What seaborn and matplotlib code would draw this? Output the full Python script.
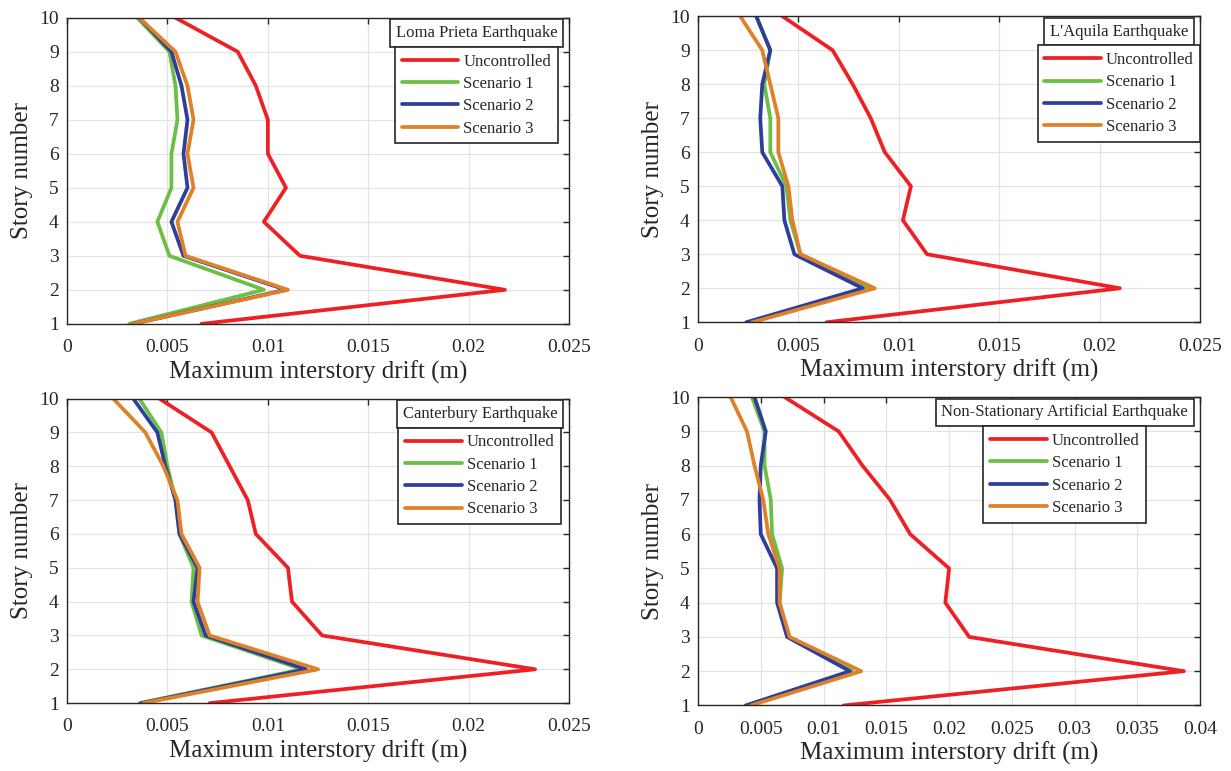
import matplotlib
matplotlib.use('Agg')
import matplotlib.pyplot as plt
import pandas as pd
import seaborn as sns

sns.set_style('white')
plt.rcParams['font.family'] = ['Liberation Serif', 'DejaVu Serif']
plt.rcParams['text.color'] = '#262626'

# story levels, 1 (bottom) to 10 (top)
stories = [1, 2, 3, 4, 5, 6, 7, 8, 9, 10]
cases = ['Uncontrolled', 'Scenario 1', 'Scenario 2', 'Scenario 3']
colors = ['#ee2024', '#6cbf45', '#2e3e9c', '#de8129']

# max interstory drift (m), story 1 -> 10
loma_unc = [0.0067, 0.0218, 0.0116, 0.0098, 0.0109, 0.0100, 0.0100, 0.0094, 0.0085, 0.0054]
loma_s1 = [0.0031, 0.0098, 0.0051, 0.0045, 0.0052, 0.0052, 0.0055, 0.0054, 0.0051, 0.0035]
loma_s2 = [0.0033, 0.0109, 0.0058, 0.0052, 0.0060, 0.0058, 0.0060, 0.0057, 0.0052, 0.0036]
loma_s3 = [0.0033, 0.0110, 0.0059, 0.0055, 0.0063, 0.0060, 0.0063, 0.0060, 0.0054, 0.0036]

aquila_unc = [0.0064, 0.0210, 0.0114, 0.0102, 0.0106, 0.0093, 0.0086, 0.0077, 0.0067, 0.0042]
aquila_s1 = [0.0025, 0.0085, 0.0051, 0.0046, 0.0044, 0.0036, 0.0036, 0.0033, 0.0036, 0.0029]
aquila_s2 = [0.0024, 0.0082, 0.0048, 0.0043, 0.0042, 0.0032, 0.0031, 0.0032, 0.0036, 0.0029]
aquila_s3 = [0.0027, 0.0088, 0.0051, 0.0047, 0.0045, 0.0040, 0.0040, 0.0036, 0.0032, 0.0021]

cant_unc = [0.0071, 0.0233, 0.0127, 0.0112, 0.0110, 0.0094, 0.0090, 0.0081, 0.0072, 0.0046]
cant_s1 = [0.0036, 0.0117, 0.0067, 0.0062, 0.0063, 0.0056, 0.0054, 0.0050, 0.0047, 0.0036]
cant_s2 = [0.0037, 0.0119, 0.0069, 0.0063, 0.0065, 0.0056, 0.0054, 0.0049, 0.0045, 0.0033]
cant_s3 = [0.0038, 0.0125, 0.0071, 0.0065, 0.0066, 0.0057, 0.0055, 0.0048, 0.0039, 0.0023]

art_unc = [0.0116, 0.0387, 0.0216, 0.0197, 0.0200, 0.0169, 0.0153, 0.0131, 0.0112, 0.0069]
art_s1 = [0.0039, 0.0123, 0.0072, 0.0065, 0.0067, 0.0059, 0.0058, 0.0053, 0.0053, 0.0043]
art_s2 = [0.0038, 0.0121, 0.0071, 0.0063, 0.0063, 0.0050, 0.0049, 0.0050, 0.0054, 0.0045]
art_s3 = [0.0042, 0.0130, 0.0073, 0.0065, 0.0065, 0.0056, 0.0052, 0.0045, 0.0039, 0.0026]

titles = ['Loma Prieta Earthquake', "L'Aquila Earthquake",
          'Canterbury Earthquake', 'Non-Stationary Artificial Earthquake']
series = [[loma_unc, loma_s1, loma_s2, loma_s3],
          [aquila_unc, aquila_s1, aquila_s2, aquila_s3],
          [cant_unc, cant_s1, cant_s2, cant_s3],
          [art_unc, art_s1, art_s2, art_s3]]
xmax = [0.025, 0.025, 0.025, 0.04]

fig = plt.figure(figsize=(12.31, 7.71), dpi=100)
# axes boxes in figure fraction (left, bottom, width, height)
boxes = [[0.0544, 0.580, 0.408, 0.397],
         [0.567, 0.582, 0.408, 0.397],
         [0.0544, 0.088, 0.408, 0.395],
         [0.567, 0.085, 0.408, 0.400]]

axes = []
for i in range(4):
    ax = fig.add_axes(boxes[i])
    rows = []
    for case, vals in zip(cases, series[i]):
        for s, v in zip(stories, vals):
            rows.append({'drift': v, 'story': s, 'case': case})
    df = pd.DataFrame(rows)
    sns.lineplot(data=df, x='drift', y='story', hue='case', palette=colors,
                 sort=False, estimator=None, lw=2.7, ax=ax)
    ax.set_xlim(0, xmax[i])
    ax.set_ylim(1, 10)
    ticks = [k * 0.005 for k in range(int(round(xmax[i] / 0.005)) + 1)]
    ax.set_xticks(ticks)
    ax.set_xticklabels(['%g' % t for t in ticks])
    ax.set_yticks(stories)
    ax.grid(True, color='#e3e3e3', lw=0.9)
    ax.set_axisbelow(True)
    ax.tick_params(direction='in', top=True, right=True, length=4, width=1,
                   labelsize=14, colors='#262626', pad=6)
    ax.tick_params(axis='x', pad=11)
    for sp in ax.spines.values():
        sp.set_color('#262626')
        sp.set_linewidth(1.0)
    ax.set_xlabel('Maximum interstory drift (m)', fontsize=18, labelpad=3)
    ax.set_ylabel('Story number', fontsize=18, labelpad=4)
    handles, labels = ax.get_legend_handles_labels()
    ax.get_legend().remove()
    t = ax.text(0.976, 0.976, titles[i], transform=ax.transAxes, ha='right', va='top',
                fontsize=12, zorder=5,
                bbox=dict(boxstyle='square,pad=0.35', fc='white', ec='#262626', lw=1.2))
    axes.append((ax, t, handles, labels))

# legend sits centred under its separate title box
fig.canvas.draw()
for ax, t, handles, labels in axes:
    bb = t.get_bbox_patch().get_window_extent().transformed(ax.transAxes.inverted())
    cx = (bb.x0 + bb.x1) / 2
    ax.legend(handles, labels, loc='upper center', bbox_to_anchor=(cx, bb.y0),
              borderaxespad=0, fontsize=12, frameon=True, fancybox=False,
              framealpha=1, edgecolor='#262626', handlelength=3.4,
              handletextpad=0.3, labelspacing=0.38, borderpad=0.4)
    ax.get_legend().get_frame().set_linewidth(1.2)

fig.savefig('out.png', dpi=100)
